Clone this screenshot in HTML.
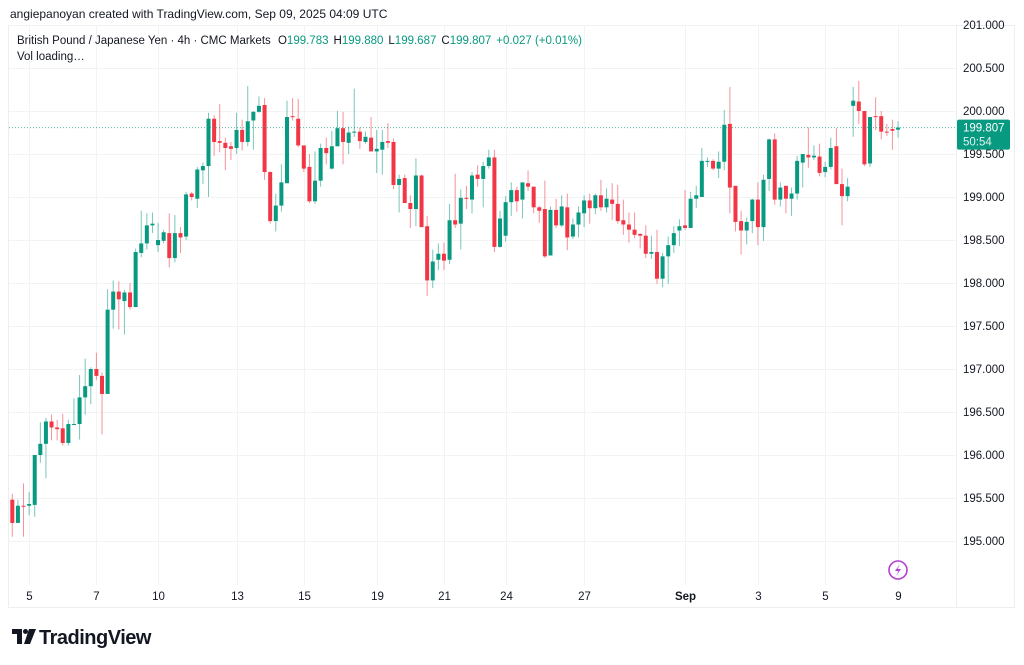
<!DOCTYPE html>
<html><head><meta charset="utf-8"><style>
html,body{margin:0;padding:0;background:#fff;width:1024px;height:665px;overflow:hidden;font-family:"Liberation Sans",sans-serif;}
svg{display:block}
</style></head><body>
<svg id="chart" width="1024" height="665" xmlns="http://www.w3.org/2000/svg" font-family="Liberation Sans, sans-serif">
<text x="10" y="18" font-size="12" fill="#131722">angiepanoyan created with TradingView.com, Sep 09, 2025 04:09 UTC</text>
<rect x="8.5" y="25.5" width="1006" height="582" fill="none" stroke="#eceef2"/>
<line x1="956.5" y1="26" x2="956.5" y2="607" stroke="#eceef2"/>
<g id="grid"></g>
<g id="candles"></g>
<g id="axes"></g>
<text x="17" y="44" font-size="11.5" fill="#131722">British Pound / Japanese Yen · 4h · CMC Markets <tspan dx="4">O</tspan><tspan fill="#089981">199.783</tspan><tspan dx="5">H</tspan><tspan fill="#089981">199.880</tspan><tspan dx="5">L</tspan><tspan fill="#089981">199.687</tspan><tspan dx="5">C</tspan><tspan fill="#089981">199.807</tspan><tspan dx="5" fill="#089981">+0.027 (+0.01%)</tspan></text>
<text x="17" y="60" font-size="11.5" fill="#131722">Vol loading…</text>
<g><circle cx="898" cy="570" r="9" fill="none" stroke="#b33fd1" stroke-width="1.6"/><path d="M900 564 L895 571 L898.5 571 L896 576 L901 569 L897.5 569 Z" fill="#b33fd1"/></g>
<g><path d="M12 629 H22 V644 H17 V634 H12 Z" fill="#131722"/><circle cx="25.5" cy="631.5" r="2.5" fill="#131722"/><path d="M29 629 H36 L30 644 H24 Z" fill="#131722"/><text x="39" y="644" font-size="20" font-weight="bold" fill="#131722" letter-spacing="-0.5">TradingView</text></g>
</svg>
<script>
const opens=[195.48,195.21,195.41,195.41,195.42,196.0,196.13,196.39,196.32,196.31,196.14,196.36,196.36,196.67,196.80,197.0,196.92,196.71,197.69,197.90,197.79,197.89,197.72,198.35,198.46,198.67,198.44,198.49,198.58,198.29,198.58,198.54,199.04,198.98,199.31,199.36,199.91,199.65,199.63,199.59,199.57,199.78,199.64,199.89,199.99,200.07,199.29,198.72,198.90,199.16,199.94,199.91,199.60,199.35,198.95,199.19,199.57,199.33,199.59,199.80,199.63,199.75,199.76,199.64,199.69,199.53,199.55,199.65,199.64,199.14,199.22,198.93,198.86,199.25,198.66,198.03,198.27,198.34,198.27,198.73,198.69,198.99,198.97,199.26,199.21,199.36,199.46,198.42,198.55,198.94,199.08,198.97,199.16,199.12,198.88,198.86,198.32,198.85,198.67,198.88,198.54,198.68,198.81,198.96,198.87,199.02,198.88,198.97,198.92,198.73,198.68,198.62,198.57,198.55,198.34,198.36,198.05,198.31,198.44,198.61,198.67,198.64,198.98,199.0,199.41,199.42,199.33,199.41,199.85,199.13,198.72,198.61,198.72,198.97,198.65,199.21,199.67,198.97,199.13,198.98,199.04,199.40,199.49,199.46,199.47,199.29,199.35,199.59,199.15,199.01,200.06,200.11,200.00,199.39,199.94,199.94,199.76,199.79,199.783];
const highs=[195.55,195.48,195.67,195.57,196.0,196.38,196.43,196.47,196.41,196.48,196.41,196.66,196.93,197.12,197.02,197.19,196.96,197.93,198.03,198.02,197.92,198.0,198.40,198.84,198.81,198.82,198.70,198.62,198.81,198.79,198.65,199.06,199.06,199.35,199.40,199.98,199.95,200.08,199.69,199.64,199.98,199.90,200.29,200.0,200.17,200.15,199.30,199.04,199.38,200.12,200.15,200.14,199.60,199.50,199.53,199.62,199.69,199.77,200.0,199.99,199.82,200.26,199.81,199.76,199.93,199.78,199.78,199.86,199.68,199.26,199.26,199.02,199.45,199.26,198.78,198.39,198.46,198.47,198.92,199.27,199.09,199.13,199.29,199.37,199.41,199.55,199.55,198.84,199.01,199.17,199.12,199.17,199.31,199.12,198.90,199.19,198.89,198.98,199.02,199.04,198.75,198.89,199.02,199.04,199.04,199.20,199.10,199.16,199.14,198.97,198.82,198.82,198.58,198.67,198.55,198.62,198.35,198.54,198.66,198.74,199.08,199.06,199.13,199.57,199.46,199.44,199.53,200.01,200.28,199.13,198.84,198.76,198.98,199.17,199.26,199.68,199.74,199.17,199.13,199.11,199.48,199.50,199.81,199.60,199.62,199.41,199.69,199.80,199.33,199.22,200.28,200.35,200.00,199.93,200.16,200.00,199.85,199.90,199.88];
const lows=[195.05,195.21,195.05,195.30,195.28,195.91,195.73,196.17,196.17,196.11,196.11,196.35,196.18,196.47,196.59,196.87,196.24,196.71,197.47,197.46,197.40,197.69,197.72,198.30,198.39,198.58,198.36,198.46,198.18,198.24,198.35,198.50,198.96,198.87,199.15,199.0,199.48,199.52,199.31,199.43,199.50,199.54,199.59,199.55,199.98,199.20,198.69,198.60,198.83,199.16,199.89,199.58,199.29,198.93,198.92,199.12,199.38,199.32,199.59,199.38,199.50,199.70,199.56,199.62,199.53,199.28,199.26,199.57,199.09,198.82,198.93,198.64,198.66,198.65,197.85,197.94,198.15,198.15,198.22,198.64,198.39,198.86,198.81,199.12,198.88,199.33,198.36,198.41,198.48,198.78,198.83,198.75,199.07,198.81,198.70,198.29,198.32,198.64,198.65,198.38,198.51,198.53,198.65,198.69,198.80,198.84,198.82,198.73,198.69,198.56,198.47,198.52,198.40,198.29,198.28,197.99,197.95,197.99,198.35,198.43,198.62,198.64,198.87,199.0,199.35,199.31,199.22,199.31,198.81,198.60,198.33,198.45,198.58,198.44,198.49,199.07,198.91,198.89,198.81,198.78,198.97,199.11,199.34,199.43,199.24,199.23,199.32,199.15,198.67,198.95,199.70,199.85,199.36,199.35,199.78,199.67,199.71,199.55,199.69];
const closes=[195.21,195.41,195.40,195.43,196.0,196.13,196.39,196.32,196.30,196.14,196.36,196.36,196.67,196.80,197.0,196.92,196.71,197.69,197.90,197.81,197.89,197.72,198.36,198.46,198.67,198.69,198.50,198.59,198.29,198.58,198.53,199.03,199.0,199.32,199.36,199.91,199.64,199.63,199.57,199.56,199.78,199.64,199.88,199.99,200.06,199.29,198.72,198.90,199.17,199.93,199.93,199.60,199.33,198.95,199.19,199.57,199.51,199.59,199.80,199.64,199.75,199.76,199.65,199.70,199.53,199.56,199.64,199.63,199.14,199.21,198.93,198.86,199.25,198.65,198.03,198.25,198.34,198.26,198.73,198.68,198.99,198.98,199.25,199.21,199.36,199.46,198.42,198.75,198.94,199.08,198.95,199.17,199.12,198.88,198.84,198.31,198.85,198.67,198.89,198.53,198.68,198.82,198.96,198.87,199.02,198.88,198.98,198.92,198.72,198.68,198.62,198.56,198.55,198.34,198.36,198.05,198.31,198.44,198.58,198.66,198.64,198.98,199.02,199.42,199.42,199.33,199.41,199.84,199.11,198.71,198.61,198.71,198.97,198.65,199.20,199.67,198.97,199.11,198.98,199.04,199.42,199.50,199.46,199.48,199.28,199.35,199.57,199.15,199.01,199.12,200.12,200.00,199.38,199.93,199.93,199.76,199.75,199.77,199.807];
const priceTicks=[201.0,200.5,200.0,199.5,199.0,198.5,198.0,197.5,197.0,196.5,196.0,195.5,195.0];
const dateLabels=["5","7","10","13","15","19","21","24","27","Sep","3","5","9"];
const dateIndex=[3,15,26,40,52,65,77,88,102,120,133,145,158];
const lastPrice=199.807;

const NS="http://www.w3.org/2000/svg";
const X0=12.3, STEP=5.606;
function xScale(i){return X0+i*STEP;}
function yScale(p){return 111+(200-p)*86;}
function mk(tag,attrs,parent){const e=document.createElementNS(NS,tag);for(const k in attrs)e.setAttribute(k,attrs[k]);parent.appendChild(e);return e;}
const grid=document.getElementById('grid'),cg=document.getElementById('candles'),ax=document.getElementById('axes');

priceTicks.forEach(p=>{
  const y=Math.round(yScale(p))+0.5;
  const l=mk('line',{x1:9,x2:956,y1:y,y2:y,stroke:'#f2f3f5'},grid);
  
  
  const t=mk('text',{x:963,y:yScale(p)+4,'font-size':11.5,fill:'#131722'},ax);
  t.textContent=p.toFixed(3);
  
  
});
dateLabels.forEach((d,k)=>{
  const x=Math.round(xScale(dateIndex[k]))+0.5;
  const l=mk('line',{x1:x,x2:x,y1:26,y2:585,stroke:'#f2f3f5'},grid);
  
  
  const t=mk('text',{x:x,y:600,'font-size':11.5,fill:'#131722','text-anchor':'middle','font-weight':d==='Sep'?'bold':'normal'},ax);
  t.textContent=d;
  
  
});

for(let i=0;i<opens.length;i++){
  const up=closes[i]>=opens[i];
  const col=up?'#089981':'#f23645';
  const x=xScale(i);
  const g=mk('g',{},cg);
  
  
  mk('line',{x1:x,x2:x,y1:yScale(highs[i]),y2:yScale(lows[i]),stroke:col,'stroke-opacity':0.55,'stroke-width':1},g);
  const top=yScale(Math.max(opens[i],closes[i])),bot=yScale(Math.min(opens[i],closes[i]));
  mk('rect',{x:x-2,y:top,width:4,height:Math.max(1,bot-top),fill:col},g);
}

const ly=yScale(lastPrice);
const dl=mk('line',{x1:9,x2:956,y1:ly,y2:ly,stroke:'#089981','stroke-dasharray':'1 2','stroke-opacity':0.7},ax);


const lb=mk('g',{},ax);


mk('rect',{x:957,y:ly-8,width:53,height:30,rx:2,fill:'#089981'},lb);
const t1=mk('text',{x:963,y:ly+4,'font-size':11.5,fill:'#fff'},lb);t1.textContent=lastPrice.toFixed(3);
const t2=mk('text',{x:963,y:ly+18,'font-size':11.5,fill:'#dff3ef'},lb);t2.textContent='50:54';
</script>
</body></html>
